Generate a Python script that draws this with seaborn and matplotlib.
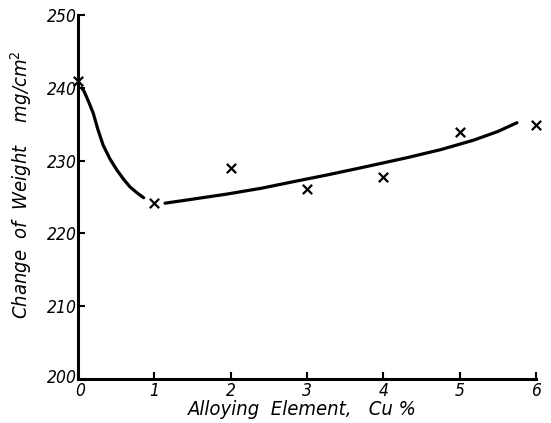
import matplotlib
matplotlib.use("Agg")
import matplotlib.pyplot as plt
import matplotlib.transforms as mtransforms
import seaborn as sns
import pandas as pd

# measured points (Cu %, change of weight mg/cm2)
cu_pct = [0, 1, 2, 3, 4, 5, 6]
weight = [240.9, 224.2, 229.0, 226.1, 227.8, 233.9, 234.9]

# hand-drawn curve, segment 1
curve1_x = [0.05, 0.08, 0.11, 0.15, 0.20, 0.26, 0.33, 0.42, 0.51, 0.60, 0.68, 0.77, 0.86]
curve1_y = [240.0, 239.5, 238.8, 237.8, 236.5, 234.3, 232.1, 230.2, 228.7, 227.4, 226.4, 225.6, 224.9]

# hand-drawn curve, segment 2
curve2_x = [1.14, 1.50, 1.95, 2.40, 2.82, 3.25, 3.70, 4.31, 4.75, 5.18, 5.50, 5.75]
curve2_y = [224.15, 224.7, 225.4, 226.2, 227.1, 228.0, 229.0, 230.4, 231.5, 232.8, 234.0, 235.2]

x_ticks = [0, 1, 2, 3, 4, 5, 6]
y_ticks = [200, 210, 220, 230, 240, 250]

sns.set_theme(style="white")
plt.rcParams['font.family'] = ['DejaVu Sans']
plt.rcParams['font.stretch'] = 'condensed'
plt.rcParams['text.color'] = 'black'
plt.rcParams['axes.labelcolor'] = 'black'
plt.rcParams['xtick.color'] = 'black'
plt.rcParams['ytick.color'] = 'black'

fig = plt.figure(figsize=(5.51, 4.23), dpi=100)
ax = fig.add_axes([78/551, 44/423, (536-78)/551, (379-15)/423])

pts = pd.DataFrame({"cu": cu_pct, "w": weight})
c1 = pd.DataFrame({"cu": curve1_x, "w": curve1_y})
c2 = pd.DataFrame({"cu": curve2_x, "w": curve2_y})

sns.lineplot(data=c1, x="cu", y="w", ax=ax, color="black", lw=2.3, sort=False)
sns.lineplot(data=c2, x="cu", y="w", ax=ax, color="black", lw=2.3, sort=False)
sns.scatterplot(data=pts, x="cu", y="w", ax=ax, marker="x", color="black",
                s=45, linewidth=1.6, zorder=5, clip_on=False)

ax.set_xlim(0, 6)
ax.set_ylim(200, 250)
ax.set_xticks(x_ticks)
ax.set_yticks(y_ticks)
ax.set_xticklabels([str(t) for t in x_ticks], fontsize=12.5, style="italic",
                   fontstretch="condensed")
ax.set_yticklabels([str(t) for t in y_ticks], fontsize=12.5, style="italic",
                   fontstretch="condensed")
ax.tick_params(direction="in", length=5, width=1.5, color="black",
               left=True, bottom=True)
ax.tick_params(axis="y", pad=1)
ax.tick_params(axis="x", pad=2)

# small nudges so the corner labels "200" and "0" do not touch
ylab0 = ax.get_yticklabels()[0]
ylab0.set_transform(ylab0.get_transform() +
                    mtransforms.ScaledTranslation(0, 3/100, fig.dpi_scale_trans))
xlab0 = ax.get_xticklabels()[0]
xlab0.set_transform(xlab0.get_transform() +
                    mtransforms.ScaledTranslation(2/100, 0, fig.dpi_scale_trans))

for s in ["top", "right"]:
    ax.spines[s].set_visible(False)
for s in ["left", "bottom"]:
    ax.spines[s].set_color("black")
    ax.spines[s].set_linewidth(2.2)

ax.set_xlabel("Alloying  Element,   Cu %", fontsize=14.5, style="italic",
              fontstretch="condensed")
ax.set_ylabel("Change  of  Weight    mg/cm$^2$", fontsize=14.5, style="italic",
              fontstretch="condensed")
ax.xaxis.set_label_coords(0.49, -0.058)
ax.yaxis.set_label_coords(-0.097, 0.533)

fig.savefig("out.png", dpi=100)
